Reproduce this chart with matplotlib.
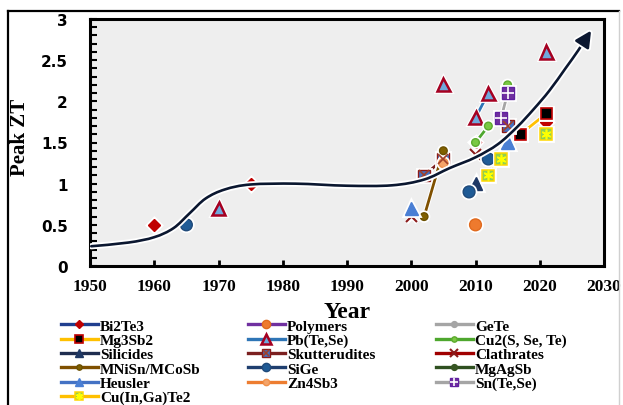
import matplotlib
matplotlib.use("Agg")
import matplotlib.pyplot as plt
import matplotlib.patheffects as pe
import numpy as np
from matplotlib.lines import Line2D
from matplotlib.path import Path
from matplotlib.patches import FancyArrowPatch
from matplotlib.legend_handler import HandlerTuple

# peak ZT by year, one list per run of connected points
bi2te3_year = [[1960], [1975], [2010], [2021]]
bi2te3_zt = [[0.5], [1.0], [1.5], [1.75]]
polymers_year = [[2010]]
polymers_zt = [[0.5]]
gete_year = []
gete_zt = []
mg3sb2_year = [[2017, 2021]]
mg3sb2_zt = [[1.6, 1.85]]
pbtese_year = [[1970], [2005], [2010, 2012], [2021]]
pbtese_zt = [[0.7], [2.2], [1.8, 2.1], [2.6]]
cu2x_year = [[2010, 2012], [2015]]
cu2x_zt = [[1.5, 1.7], [2.2]]
silicides_year = [[2010]]
silicides_zt = [[1.0]]
skutt_year = [[2002, 2005], [2015]]
skutt_zt = [[1.1, 1.3], [1.7]]
clath_year = [[2000], [2010]]
clath_zt = [[0.6], [1.35]]
hh_year = [[2002, 2005]]
hh_zt = [[0.6, 1.4]]
sige_year = [[1965], [2009], [2012]]
sige_zt = [[0.5], [0.9], [1.3]]
mgagsb_year = []
mgagsb_zt = []
heusler_year = [[2000], [2015]]
heusler_zt = [[0.7], [1.5]]
zn4sb3_year = [[2005]]
zn4sb3_zt = [[1.25]]
sntese_year = [[2014, 2015]]
sntese_zt = [[1.8, 2.1]]
cigt_year = [[2012, 2014], [2021]]
cigt_zt = [[1.1, 1.3], [1.6]]

# knots of the hand-drawn trend arrow
trend_x = [1950.2, 1956, 1960, 1963, 1965.5, 1968, 1971, 1975, 1982, 1990,
           1997, 2002, 2006, 2010, 2013.5, 2016.5, 2019, 2021.5, 2024, 2026, 2028]
trend_y = [0.24, 0.285, 0.35, 0.46, 0.64, 0.82, 0.93, 0.99, 1.0, 0.975,
           0.98, 1.05, 1.19, 1.32, 1.48, 1.69, 1.9, 2.13, 2.4, 2.62, 2.86]

W, H = 623, 406
fig = plt.figure(figsize=(W / 100, H / 100), dpi=100)
ax = fig.add_axes([90 / W, 139 / H, 514 / W, 247 / H])
ax.set_facecolor('#EEEEEE')

glow = [pe.Stroke(linewidth=3.5, foreground='white'), pe.Normal()]

series = [
    # label, years, zt, line colour, marker style, overlay marker
    ('Bi2Te3', bi2te3_year, bi2te3_zt, '#203F8F',
     dict(marker='D', ms=6, mfc='#C00000', mec='#C00000'), None),
    ('Polymers', polymers_year, polymers_zt, '#7030A0',
     dict(marker='o', ms=8.5, mfc='#EE7A2E', mec='#E06A1E'), None),
    ('GeTe', gete_year, gete_zt, '#A5A5A5',
     dict(marker='o', ms=6, mfc='#A5A5A5', mec='#A5A5A5'), None),
    ('Mg3Sb2', mg3sb2_year, mg3sb2_zt, '#FFC000',
     dict(marker='s', ms=8, mfc='black', mec='#C00000', mew=1.2), None),
    ('Pb(Te,Se)', pbtese_year, pbtese_zt, '#2E75B6',
     dict(marker='^', ms=9.5, mfc='#6FA8DC', mec='#A50021', mew=1.8), None),
    ('Cu2(S, Se, Te)', cu2x_year, cu2x_zt, '#4EA72E',
     dict(marker='o', ms=5.5, mfc='#7AC943', mec='#5DAA2E'), None),
    ('Silicides', silicides_year, silicides_zt, '#1F2D4F',
     dict(marker='^', ms=9, mfc='#1F3864', mec='#1F3864'), None),
    ('Skutterudites', skutt_year, skutt_zt, '#7B2020',
     dict(marker='s', ms=8.5, mfc='#4472C4', mec='#8B1A1A', mew=1),
     dict(marker='x', ms=6.5, mec='#A0402A', mew=1.2)),
    ('Clathrates', clath_year, clath_zt, '#A00000',
     dict(marker='x', ms=8, mec='#8B1A1A', mew=1.5), None),
    ('MNiSn/MCoSb', hh_year, hh_zt, '#7F5000',
     dict(marker='o', ms=5.5, mfc='#806000', mec='#6B5000'), None),
    ('SiGe', sige_year, sige_zt, '#1F3F6F',
     dict(marker='o', ms=8.5, mfc='#1F5B96', mec='#1F4A7A'), None),
    ('MgAgSb', mgagsb_year, mgagsb_zt, '#2F5020',
     dict(marker='o', ms=6, mfc='#375623', mec='#375623'), None),
    ('Heusler', heusler_year, heusler_zt, '#4472C4',
     dict(marker='^', ms=9, mfc='#4A7FD4', mec='#4A7FD4'), None),
    ('Zn4Sb3', zn4sb3_year, zn4sb3_zt, '#ED7D31',
     dict(marker='o', ms=6.5, mfc='#F4A46A', mec='#F0904A'), None),
    ('Sn(Te,Se)', sntese_year, sntese_zt, '#A5A5A5',
     dict(marker='s', ms=8.5, mfc='#7030A0', mec='#6020A0'),
     dict(marker='+', ms=8.5, mec='white', mew=1.2)),
    ('Cu(In,Ga)Te2', cigt_year, cigt_zt, '#FFC000',
     dict(marker='s', ms=8.5, mfc='#92D050', mec='#FFD700', mew=1.1),
     dict(marker=(6, 2, 0), ms=7, mec='#FFFF00', mew=1.2)),
]

handles = {}
for label, years, zts, lc, mk, over in series:
    for xs, ys in zip(years, zts):
        ax.plot(xs, ys, color=lc, lw=2, path_effects=glow, zorder=3, **mk)
        if over:
            ax.plot(xs, ys, ls='none', zorder=3.5, **over)
    h = Line2D([], [], color=lc, lw=2.4, **mk)
    if over:
        h = (h, Line2D([], [], ls='none', **over))
    handles[label] = h

# trend arrow as a smooth Catmull-Rom curve
pts = np.column_stack([trend_x, trend_y])
verts = [pts[0]]
codes = [Path.MOVETO]
for i in range(len(pts) - 1):
    p0 = pts[max(i - 1, 0)]
    p1, p2 = pts[i], pts[i + 1]
    p3 = pts[min(i + 2, len(pts) - 1)]
    verts += [p1 + (p2 - p0) / 6, p2 - (p3 - p1) / 6, p2]
    codes += [Path.CURVE4] * 3
arrow = FancyArrowPatch(path=Path(verts, codes),
                        arrowstyle='-|>,head_length=0.7,head_width=0.35',
                        mutation_scale=14, color='#0B1730', lw=1.9,
                        transform=ax.transData, zorder=6,
                        path_effects=[pe.withStroke(linewidth=4.5, foreground='white')])
ax.add_patch(arrow)

ax.set_xlim(1950, 2030)
ax.set_ylim(0, 3)
ax.set_xticks(range(1950, 2031, 10))
ax.set_yticks([0, 0.5, 1, 1.5, 2, 2.5, 3])
ax.set_yticklabels(['0', '0.5', '1', '1.5', '2', '2.5', '3'])
ax.set_yticks(np.arange(0, 3.01, 0.1), minor=True)
ax.tick_params(axis='y', which='both', direction='in', length=5, width=1.5,
               pad=16, labelsize=11)
ax.tick_params(axis='x', which='major', direction='in', length=4, width=2,
               pad=9, labelsize=12.5)
for t in ax.get_yticklabels():
    t.set_fontfamily('DejaVu Sans')
    t.set_fontweight('bold')
for t in ax.get_xticklabels():
    t.set_fontfamily('Liberation Serif')
    t.set_fontweight('bold')
for s in ax.spines.values():
    s.set_linewidth(2.2)

fig.text(20 / W, 1 - 137 / H, 'Peak ZT', rotation=90, ha='center', va='center',
         family='Liberation Serif', weight='bold', fontsize=15)
fig.text(347 / W, 1 - 313 / H, 'Year', ha='center', va='center',
         family='Liberation Serif', weight='bold', fontsize=17)

# outer frame
fig.add_artist(Line2D([8 / W, 8 / W], [0, 1 - 12 / H], color='black', lw=1.6))
fig.add_artist(Line2D([8 / W, 619 / W], [1 - 12 / H, 1 - 12 / H], color='black', lw=1.6))
fig.add_artist(Line2D([619 / W, 619 / W], [0, 1 - 12 / H], color='#D0D0D0', lw=1))

columns = [
    ['Bi2Te3', 'Mg3Sb2', 'Silicides', 'MNiSn/MCoSb', 'Heusler', 'Cu(In,Ga)Te2'],
    ['Polymers', 'Pb(Te,Se)', 'Skutterudites', 'SiGe', 'Zn4Sb3'],
    ['GeTe', 'Cu2(S, Se, Te)', 'Clathrates', 'MgAgSb', 'Sn(Te,Se)'],
]
col_x = [61, 248, 436]
for cx, labels in zip(col_x, columns):
    leg = fig.legend([handles[l] for l in labels], labels, loc='upper left',
                     bbox_to_anchor=(cx / W, 1 - 320 / H), frameon=False,
                     borderpad=0, borderaxespad=0, handlelength=2.4,
                     handletextpad=0.15, labelspacing=0.04, numpoints=1,
                     markerscale=0.7,
                     handler_map={tuple: HandlerTuple(ndivide=1)},
                     prop=dict(family='Liberation Serif', weight='bold', size=11))

fig.savefig('out.png', dpi=100)
